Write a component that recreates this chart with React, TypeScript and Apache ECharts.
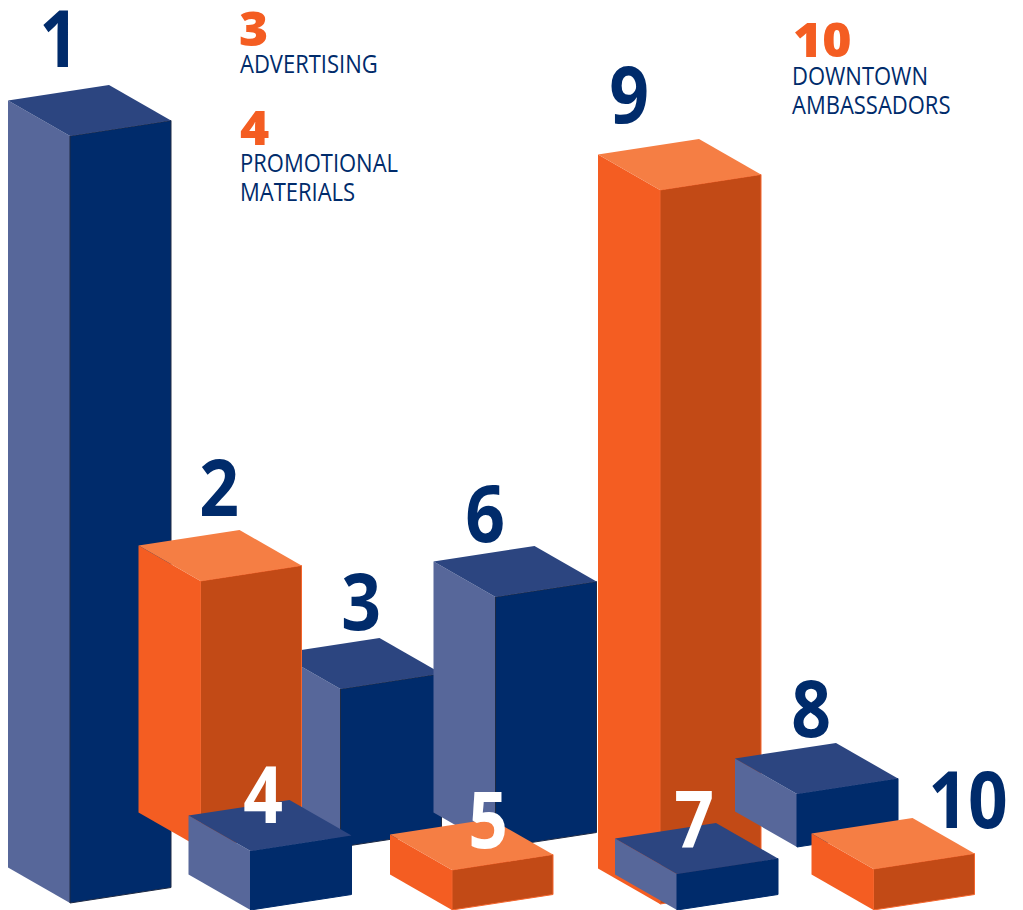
import React, { useEffect, useRef } from "react";
import * as echarts from "echarts";

// Every bar, in paint order (back to front). Values are in chart units of the hidden axes.
const barLabels = ["1", "3", "2", "6", "9", "4", "5", "7", "8", "10"];
const barHeights = [767, 158, 267, 251, 714, 59, 40, 36, 53, 41];
const barFrontX = [70, 340.5, 200.5, 495.5, 660, 250.5, 452, 677, 797, 873.5];
const barGroundY = [7, 63, 62, 62, 6, 0, 0, 0, 63, 0];
const barTones = ["navy", "navy", "orange", "navy", "orange", "navy", "orange", "navy", "navy", "orange"];
const labelX = [59, 361, 219, 485, 629, 263, 488, 694, 811, 968];
const labelY = [874, 311, 425, 399, 818, 118, 93, 94, 204, 113];
const labelTones = ["navy", "navy", "navy", "navy", "navy", "white", "white", "white", "navy", "navy"];

const legendNumbers = [
  { text: "3", x: 239, y: 27 },
  { text: "4", x: 240, y: 126 },
  { text: "10", x: 793, y: 38 },
];
const legendLines = [
  { text: "ADVERTISING", x: 240, y: 63.5 },
  { text: "PROMOTIONAL", x: 240, y: 162.5 },
  { text: "MATERIALS", x: 240, y: 191.5 },
  { text: "DOWNTOWN", x: 792, y: 75 },
  { text: "AMBASSADORS", x: 792, y: 104 },
];

const NAVY = "#002b6b";
const ORANGE = "#f45d22";
const palette: Record<string, any> = {
  navy: { left: "#57679a", top: "#2c4580", right: NAVY, edge: "#1e2a44" },
  orange: { left: ORANGE, top: "#f57e44", right: "#c24a16", edge: "#f4652c" },
};
const textColors: Record<string, string> = { navy: NAVY, white: "#ffffff" };

const leftDX = -62;
const leftDY = 35.5;
const rightDX = 101;
const rightDY = 15.5;
const FONT = '"Open Sans", sans-serif';

export default function App() {
  const ref = useRef<HTMLDivElement>(null);
  useEffect(() => {
    const chart = echarts.init(ref.current!, undefined, { renderer: "svg" });
    const rows = barLabels.map((_, i) => [barFrontX[i], barGroundY[i], barHeights[i], i]);
    const renderItem = (_p: any, api: any) => {
      const fx = api.value(0);
      const gy = api.value(1);
      const h = api.value(2);
      const i = api.value(3);
      const c = palette[barTones[i]];
      const pt = (x: number, y: number) => api.coord([x, y]);
      const top = gy + h;
      const F = pt(fx, top);
      const L = pt(fx + leftDX, top + leftDY);
      const R = pt(fx + rightDX, top + rightDY);
      const B = pt(fx + leftDX + rightDX, top + leftDY + rightDY);
      const Fb = pt(fx, gy);
      const Lb = pt(fx + leftDX, gy + leftDY);
      const Rb = pt(fx + rightDX, gy + rightDY);
      const lp = pt(labelX[i], labelY[i]);
      const tall = h > 100;
      return {
        type: "group",
        children: [
          { type: "polygon", shape: { points: [L, F, Fb, Lb] }, style: { fill: c.left } },
          {
            type: "polygon",
            shape: { points: [F, R, Rb, Fb] },
            style: { fill: c.right, stroke: tall || barTones[i] === "orange" ? c.edge : c.right, lineWidth: 1 },
          },
          { type: "polygon", shape: { points: [L, B, R, F] }, style: { fill: c.top } },
          {
            type: "text",
            x: lp[0],
            y: lp[1],
            scaleX: 0.88,
            style: {
              text: barLabels[i],
              x: 0,
              y: 0,
              fill: textColors[labelTones[i]],
              font: `700 79px ${FONT}`,
              textAlign: "center",
              textVerticalAlign: "middle",
            },
          },
        ],
      };
    };
    chart.setOption({
      animation: false,
      backgroundColor: "#ffffff",
      grid: { left: 0, right: 0, top: 0, bottom: 0 },
      xAxis: { type: "value", min: 0, max: 1023, show: false },
      yAxis: { type: "value", min: 0, max: 910, show: false },
      series: [
        {
          type: "custom",
          coordinateSystem: "cartesian2d",
          clip: false,
          data: rows,
          encode: { x: 0, y: 1 },
          renderItem,
          silent: true,
        },
      ],
      graphic: [
        ...legendNumbers.map((n) => ({
          type: "text",
          x: n.x,
          y: n.y,
          scaleX: 1.04,
          style: {
            text: n.text,
            x: 0,
            y: 0,
            fill: ORANGE,
            font: `800 48px ${FONT}`,
            textAlign: "left",
            textVerticalAlign: "middle",
          },
        })),
        ...legendLines.map((n) => ({
          type: "text",
          x: n.x,
          y: n.y,
          scaleX: 0.88,
          style: {
            text: n.text,
            x: 0,
            y: 0,
            fill: NAVY,
            font: `400 25px ${FONT}`,
            textAlign: "left",
            textVerticalAlign: "middle",
          },
        })),
      ],
    });
    return () => chart.dispose();
  }, []);
  return (
    <div
      ref={ref}
      style={{ position: "absolute", left: 0, top: 0, width: 1023, height: 910 }}
    />
  );
}
